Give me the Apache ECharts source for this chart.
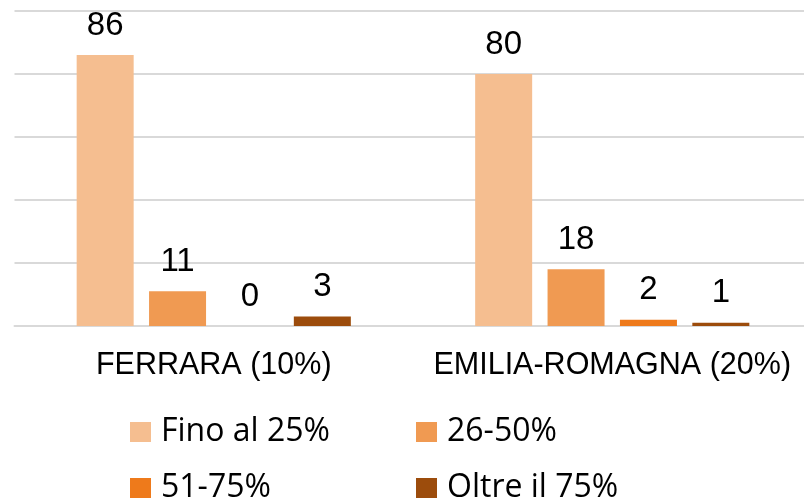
<!DOCTYPE html>
<html>
<head>
<meta charset="utf-8">
<script src="https://cdn.jsdelivr.net/npm/echarts@6/dist/echarts.min.js"></script>
<style>
html,body{margin:0;padding:0;background:#fff;overflow:hidden;}
#c{width:830px;height:503px;}
</style>
</head>
<body>
<div id="c"></div>
<script>
const categories = ['FERRARA (10%)', 'EMILIA-ROMAGNA (20%)'];
const seriesNames = ['Fino al 25%', '26-50%', '51-75%', 'Oltre il 75%'];
const fino25 = [86, 80];
const da26a50 = [11, 18];
const da51a75 = [0, 2];
const oltre75 = [3, 1];
const colors = ['#F5BE90', '#F09A52', '#EE7A1B', '#9C4C0C'];

const values = [fino25, da26a50, da51a75, oltre75];
const chart = echarts.init(document.getElementById('c'), null, {renderer: 'canvas'});

const legendPos = [
  {left: 130, top: 416},
  {left: 416, top: 416},
  {left: 130, top: 472},
  {left: 416, top: 472}
];

const option = {
  animation: false,
  backgroundColor: '#fff',
  grid: {left: 14.5, top: 11, width: 797, height: 315, containLabel: false},
  legend: seriesNames.map((n, i) => ({
    data: [n],
    left: legendPos[i].left,
    top: legendPos[i].top,
    itemWidth: 21,
    itemHeight: 20,
    icon: 'rect',
    padding: 0,
    textStyle: {fontFamily: 'Open Sans', fontSize: 32, color: '#000', padding: [0, 0, 0, 5]}
  })),
  xAxis: {
    type: 'category',
    data: categories,
    axisLine: {lineStyle: {color: '#d9d9d9', width: 2}},
    axisTick: {show: false},
    axisLabel: {fontFamily: 'Liberation Sans', fontSize: 30.5, color: '#000', margin: 24, interval: 0, hideOverlap: false}
  },
  yAxis: {
    type: 'value',
    min: 0, max: 100, interval: 20,
    axisLine: {show: false},
    axisTick: {show: false},
    axisLabel: {show: false},
    splitLine: {lineStyle: {color: '#d9d9d9', width: 2}}
  },
  series: seriesNames.map((n, i) => ({
    name: n,
    type: 'bar',
    data: values[i],
    barWidth: 57,
    barGap: '27%',
    itemStyle: {color: colors[i]},
    label: {
      show: true, position: 'top', distance: 13,
      fontFamily: 'Liberation Sans', fontSize: 33, color: '#000'
    }
  }))
};
chart.setOption(option);
</script>
</body>
</html>
